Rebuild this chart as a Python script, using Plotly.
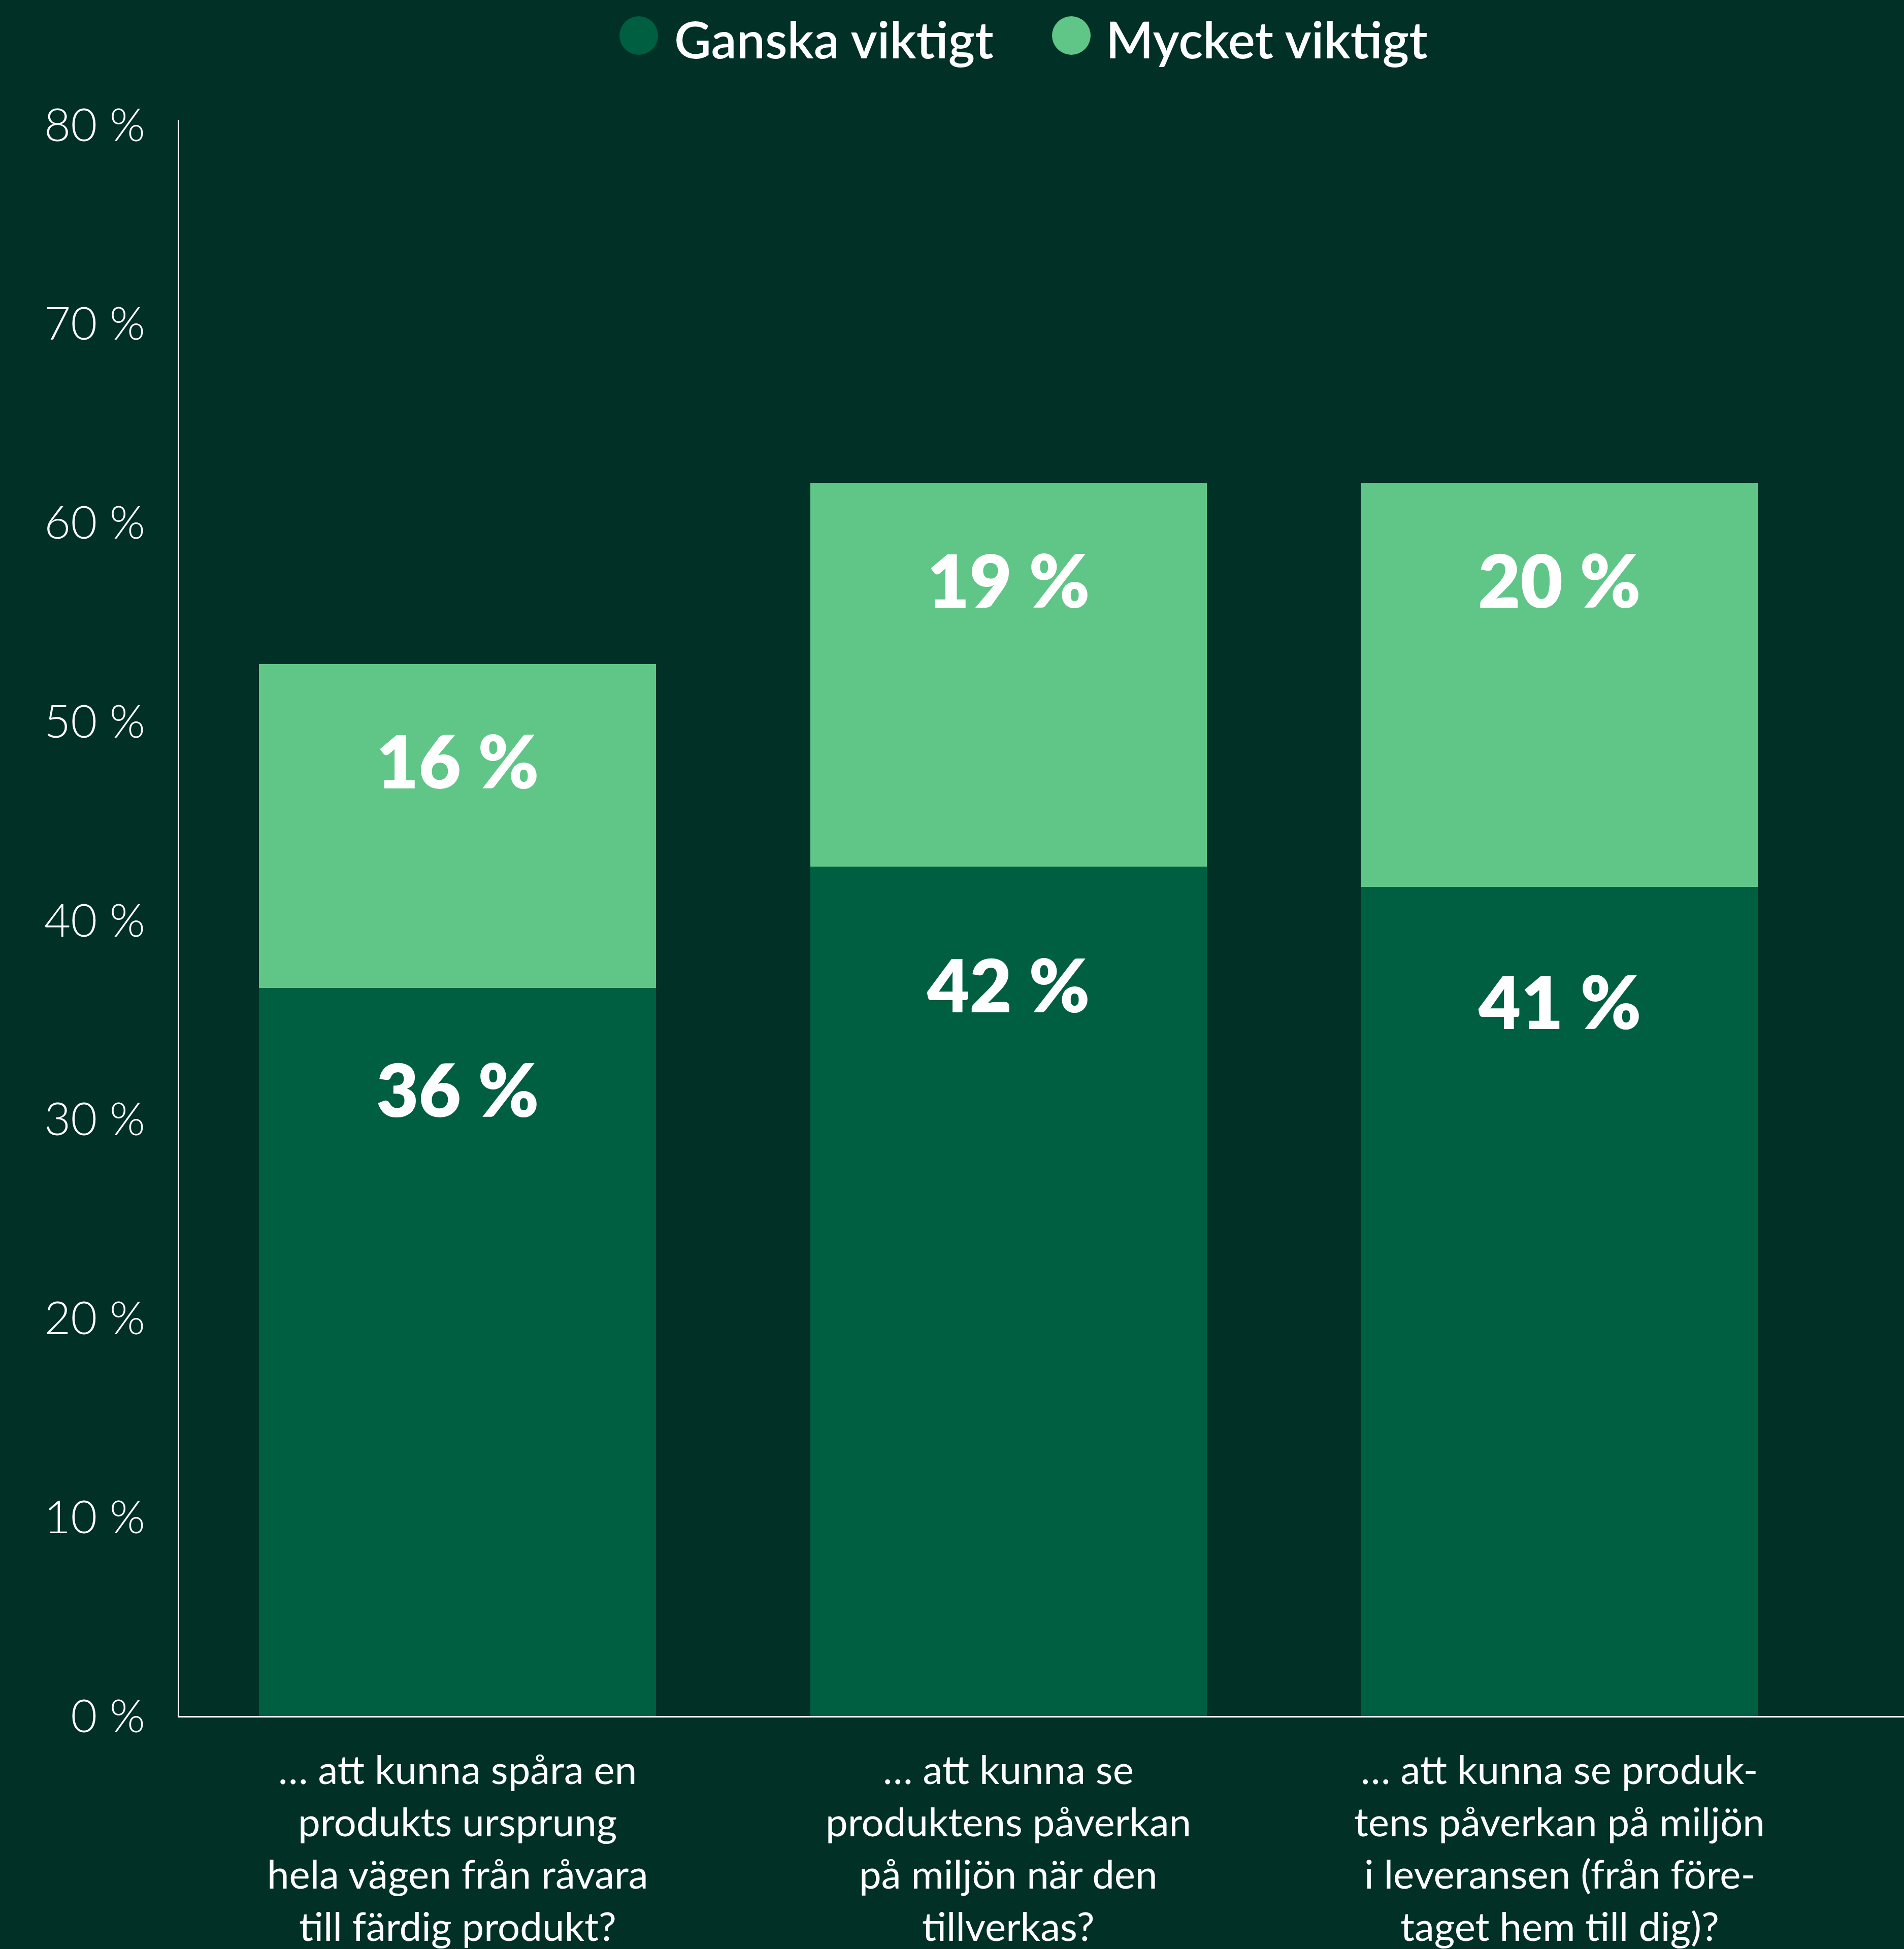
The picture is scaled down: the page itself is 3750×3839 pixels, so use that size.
import plotly.graph_objects as go

# ---- data ----
category_lines = [
    ["… att kunna spåra en", "produkts ursprung", "hela vägen från råvara", "till färdig produkt?"],
    ["… att kunna se", "produktens påverkan", "på miljön när den", "tillverkas?"],
    ["… att kunna se produk-", "tens påverkan på miljön", "i leveransen (från före-", "taget hem till dig)?"],
]
categories = [" ".join(lines) for lines in category_lines]
series_names = ["Ganska viktigt", "Mycket viktigt"]
ganska_values = [36.6, 42.7, 41.7]
mycket_values = [16.3, 19.3, 20.3]
ganska_labels = ["36 %", "42 %", "41 %"]
mycket_labels = ["16 %", "19 %", "20 %"]
y_tickvals = [0, 10, 20, 30, 40, 50, 60, 70, 80]
y_ticktext = ["0 %", "10 %", "20 %", "30 %", "40 %", "50 %", "60 %", "70 %", "80 %"]

# ---- style ----
BG = "#003026"
DARK = "#005F41"
LIGHT = "#60C687"
WHITE = "#FFFFFF"
FONT = "Lato, 'Open Sans', sans-serif"

W, H = 3750, 3839
ML, MR, MT, MB = 353, 0, 236, 459
PW = W - ML - MR
PH = H - MT - MB

fig = go.Figure()
fig.add_trace(go.Bar(x=categories, y=ganska_values, name=series_names[0],
                     marker=dict(color=DARK, line=dict(width=0)), showlegend=False))
fig.add_trace(go.Bar(x=categories, y=mycket_values, name=series_names[1],
                     marker=dict(color=LIGHT, line=dict(width=0)), showlegend=False))

annotations = []
# value labels inside bars
for i, cat in enumerate(categories):
    annotations.append(dict(x=cat, y=ganska_values[i] * 0.862, xref="x", yref="y",
                            text=ganska_labels[i], showarrow=False, xanchor="center", yanchor="middle",
                            font=dict(family=FONT, size=144, color=WHITE, weight=800)))
    top = ganska_values[i] + mycket_values[i]
    annotations.append(dict(x=cat, y=top - 4.85, xref="x", yref="y",
                            text=mycket_labels[i], showarrow=False, xanchor="center", yanchor="middle",
                            font=dict(family=FONT, size=144, color=WHITE, weight=800)))

# category labels (one annotation per line to control line spacing)
for i, cat in enumerate(categories):
    for j, line in enumerate(category_lines[i]):
        annotations.append(dict(x=cat, y=0, xref="x", yref="paper", text=line, showarrow=False,
                                xanchor="center", yanchor="middle", yshift=-(104 + 103 * j),
                                font=dict(family=FONT, size=78, color=WHITE)))

# custom legend (circles + text)
def px_to_paper_x(px):
    return (px - ML) / PW

def px_to_paper_y(py):
    return (H - MB - py) / PH

shapes = []
legend_items = [(series_names[0], DARK, 1258, 1326), (series_names[1], LIGHT, 2110, 2176)]
for name, color, cx, tx in legend_items:
    shapes.append(dict(type="circle", xref="paper", yref="paper",
                       xsizemode="pixel", ysizemode="pixel",
                       xanchor=px_to_paper_x(cx), yanchor=px_to_paper_y(70),
                       x0=-38, x1=38, y0=-38, y1=38,
                       fillcolor=color, line=dict(width=0)))
    annotations.append(dict(x=px_to_paper_x(tx), y=px_to_paper_y(76), xref="paper", yref="paper",
                            text=name, showarrow=False, xanchor="left", yanchor="middle",
                            font=dict(family=FONT, size=100, color=WHITE, weight=600)))

fig.update_layout(
    width=W, height=H,
    margin=dict(l=ML, r=MR, t=MT, b=MB, pad=0),
    paper_bgcolor=BG, plot_bgcolor=BG,
    barmode="stack", bargap=0.28,
    showlegend=False,
    font=dict(family=FONT, color=WHITE),
    annotations=annotations,
    shapes=shapes,
    xaxis=dict(range=[-0.505, 2.625], showticklabels=False, ticks="", showgrid=False,
               zeroline=False, showline=True, linecolor=WHITE, linewidth=3, fixedrange=True),
    yaxis=dict(range=[0, 80.26], tickvals=y_tickvals, ticktext=y_ticktext, ticks="",
               showgrid=False, zeroline=False, showline=True, linecolor=WHITE, linewidth=3,
               ticklabelstandoff=46,
               tickfont=dict(family=FONT, size=90, color=WHITE, weight=300)),
)

fig.write_html("out.html")
